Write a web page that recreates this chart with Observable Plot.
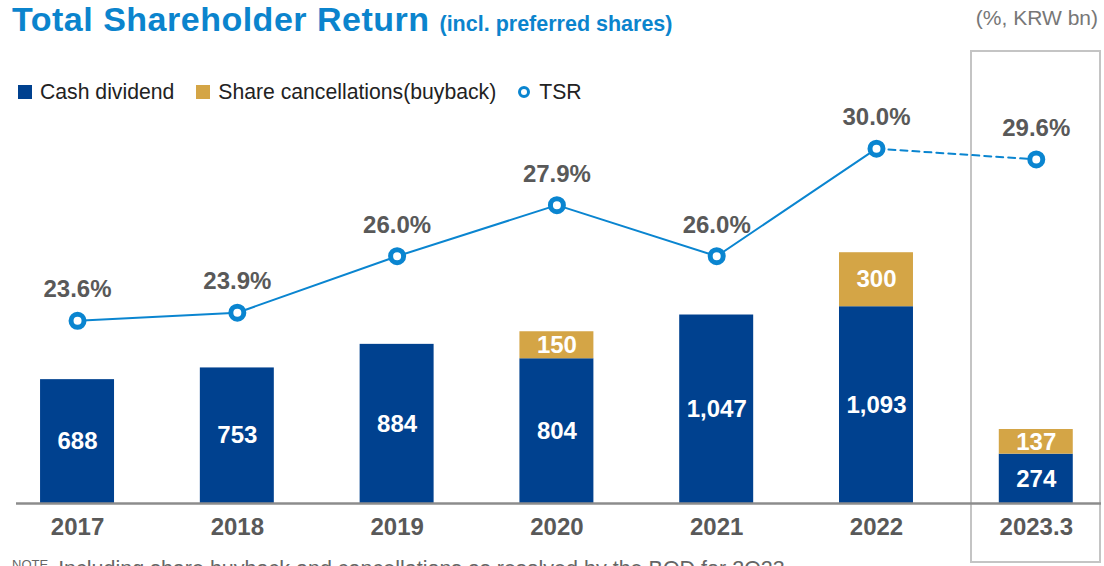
<!DOCTYPE html>
<html>
<head>
<meta charset="utf-8">
<script src="https://cdn.jsdelivr.net/npm/d3@7"></script>
<script src="https://cdn.jsdelivr.net/npm/@observablehq/plot@0.6"></script>
<style>
  html, body { margin: 0; padding: 0; background: #fff; }
  body { width: 1104px; height: 566px; overflow: hidden; position: relative; font-family: "Liberation Sans", Arial, sans-serif; }
  .abs { position: absolute; white-space: nowrap; }
  #title { left: 12px; top: 0px; font-size: 34px; line-height: 38px; font-weight: bold; color: #0b84cd; letter-spacing: 0.5px; }
  #title span { font-size: 21.5px; letter-spacing: 0; }
  #unit { right: 6px; top: 6px; font-size: 21px; line-height: 24px; color: #777; }
  #legend { left: 18px; top: 80px; font-size: 21.2px; line-height: 24px; color: #222; display: flex; align-items: center; }
  .sw { display: inline-block; width: 14px; height: 14px; margin-right: 8px; }
  .item { display: flex; align-items: center; margin-right: 22px; }
  .ring { display: inline-block; width: 6px; height: 6px; border: 3.5px solid #0a85d0; border-radius: 50%; margin-right: 9px; background: #fff; }
  #box { left: 970px; top: 50px; width: 131px; height: 513px; border: 2px solid #c4c4c4; box-sizing: border-box; }
  #chart { left: 0; top: 110px; }
  #note { left: 12px; top: 553px; font-size: 21.5px; line-height: 24px; color: #666; }
  #note sup { font-size: 13px; vertical-align: 7px; margin-right: 10px; }
  #chart svg [aria-label="x-axis tick label"] text { font-weight: bold; }
</style>
</head>
<body>
<div id="box" class="abs"></div>
<div id="title" class="abs">Total Shareholder Return <span>(incl. preferred shares)</span></div>
<div id="unit" class="abs">(%, KRW bn)</div>
<div id="legend" class="abs"></div>
<div id="chart" class="abs"></div>
<div id="note" class="abs"><sup>NOTE</sup>Including share buyback and cancellations as resolved by the BOD for 2Q23</div>
<script>
// ---- data ----
const years = ["2017", "2018", "2019", "2020", "2021", "2022", "2023.3"];
const cashDividend = [688, 753, 884, 804, 1047, 1093, 274];
const buyback = [0, 0, 0, 150, 0, 300, 137];
const tsr = [23.6, 23.9, 26.0, 27.9, 26.0, 30.0, 29.6];
const seriesNames = ["Cash dividend", "Share cancellations(buyback)"];
const seriesColors = ["#00418f", "#d4a546"];
const tsrName = "TSR";
const tsrColor = "#0a85d0";

// ---- tables ----
const stackRows = [];
years.forEach((y, i) => {
  stackRows.push({year: y, series: seriesNames[0], value: cashDividend[i]});
  stackRows.push({year: y, series: seriesNames[1], value: buyback[i]});
});
const tsrRows = years.map((y, i) => ({year: y, tsr: tsr[i]}));
// secondary (TSR %) axis mapped onto the bar scale
const tsrToY = d3.scaleLinear().domain([23.6, 30.0]).range([1015, 1971]);
const fmt = d3.format(",");

// ---- legend ----
const legend = document.getElementById("legend");
seriesNames.forEach((n, i) => {
  const it = document.createElement("div");
  it.className = "item";
  it.innerHTML = `<span class="sw" style="background:${seriesColors[i]}"></span>${n}`;
  legend.appendChild(it);
});
const tIt = document.createElement("div");
tIt.className = "item";
tIt.innerHTML = `<span class="ring"></span>${tsrName}`;
legend.appendChild(tIt);

// ---- chart ----
const chart = Plot.plot({
  width: 1104,
  height: 440,
  marginLeft: 16,
  marginRight: 3,
  marginTop: 0,
  marginBottom: 47,
  style: {fontFamily: "'Liberation Sans', Arial, sans-serif", fontSize: "24px", overflow: "visible"},
  x: {domain: years, paddingInner: 0.537, paddingOuter: 0.1636, align: 0.46, round: false, label: null},
  y: {domain: [0, 2183], axis: null},
  color: {domain: seriesNames, range: seriesColors},
  marks: [
    Plot.barY(stackRows, {x: "year", y: "value", fill: "series"}),
    Plot.text(stackRows.filter(d => d.value > 0), Plot.stackY({
      x: "year", y: "value", z: "series",
      text: d => fmt(d.value), fill: "white", fontSize: 24, fontWeight: "bold"
    })),
    Plot.ruleY([0], {stroke: "#8c8c8c", strokeWidth: 2.5}),
    Plot.axisX({tickSize: 0, tickPadding: 14, fontSize: 24, fontWeight: "bold", color: "#595959"}),
    Plot.line(tsrRows.slice(0, 6), {x: "year", y: d => tsrToY(d.tsr), stroke: tsrColor, strokeWidth: 2}),
    Plot.line(tsrRows.slice(5), {x: "year", y: d => tsrToY(d.tsr), stroke: tsrColor, strokeWidth: 2, strokeDasharray: "7,5"}),
    Plot.dot(tsrRows, {x: "year", y: d => tsrToY(d.tsr), r: 6.5, fill: "white", stroke: tsrColor, strokeWidth: 5}),
    Plot.text(tsrRows, {x: "year", y: d => tsrToY(d.tsr), text: d => d.tsr.toFixed(1) + "%", dy: -31, fontSize: 24, fontWeight: "bold", fill: "#595959"})
  ]
});
document.getElementById("chart").appendChild(chart);
</script>
</body>
</html>
